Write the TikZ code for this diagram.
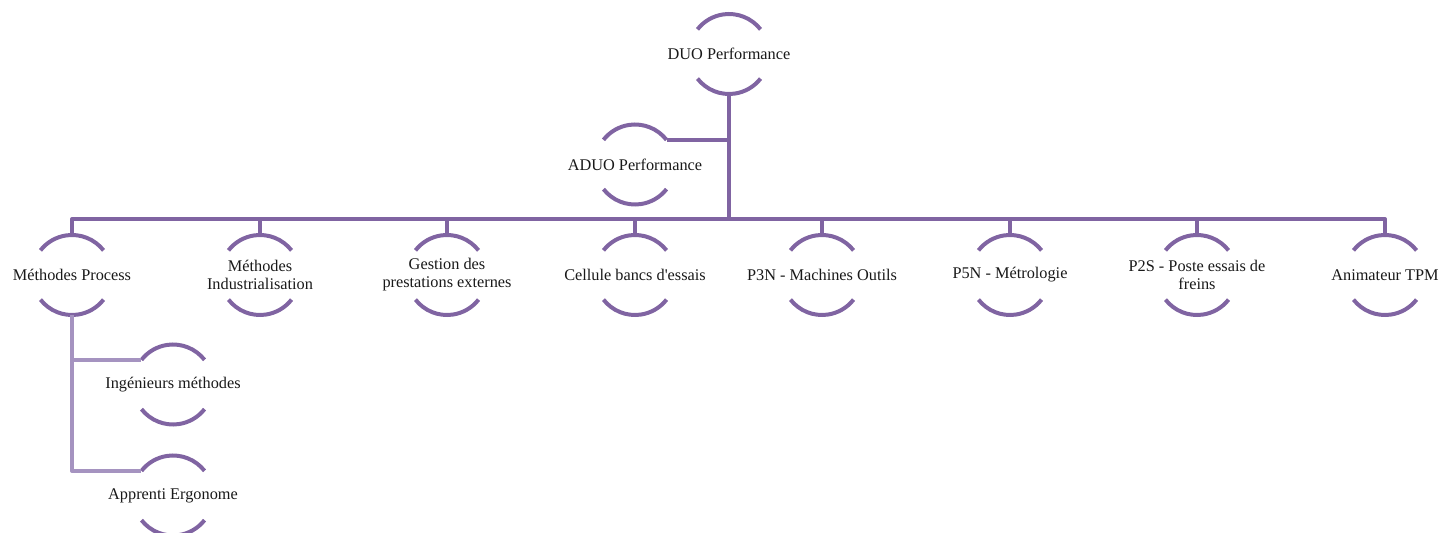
\documentclass[tikz,border=0pt]{standalone}
\usepackage{fontspec}
\setmainfont{Liberation Serif}
\definecolor{plum}{HTML}{8064A2}
\definecolor{lilac}{HTML}{A593C0}
\begin{document}
\begin{tikzpicture}[x=1pt,y=1pt,
  ring/.style={circle,minimum size=80pt,inner sep=0pt,outer sep=0pt},
  caption/.style={align=center,font=\fontsize{16.3}{18}\selectfont,text=black!90},
  link/.style={draw=plum,line width=4pt,line join=round},
  sublink/.style={draw=lilac,line width=4pt,line join=round},
  bow/.style={draw=plum,line width=4pt}]
\useasboundingbox (0,0) rectangle (1441,533);

% top levels
\node[ring,label={[caption,name=duoT]center:DUO Performance}] (duo) at (729,479) {};
\node[ring,label={[caption,name=aduoT]center:ADUO Performance}] (aduo) at (635,368.5) {};

% second level
\node[ring,label={[caption,name=mpT]center:Méthodes Process}] (mp) at (72,258) {};
\node[ring,label={[caption,name=miT]center:Méthodes\\Industrialisation}] (mi) at (260,258) {};
\node[ring,label={[caption,name=gpT]center:Gestion des\\prestations externes}] (gp) at (447,258) {};
\node[ring,label={[caption,name=cbT]center:Cellule bancs d\textquotesingle essais}] (cb) at (635,258) {};
\node[ring,label={[caption,name=p3T]center:P3N - Machines Outils}] (p3) at (822,258) {};
\node[ring,label={[caption,name=p5T]center:P5N - Métrologie}] (p5) at (1010,258) {};
\node[ring,label={[caption,name=p2T]center:P2S - Poste essais de\\freins}] (p2) at (1197,258) {};
\node[ring,label={[caption,name=atT]center:Animateur TPM}] (at) at (1385,258) {};

% third level
\node[ring,label={[caption,name=ingT]center:Ingénieurs méthodes}] (ing) at (173,148.5) {};
\node[ring,label={[caption,name=appT]center:Apprenti Ergonome}] (app) at (173,37.5) {};

% arcs above and below each label
\foreach \n in {duo,aduo,mp,mi,gp,cb,p3,p5,p2,at,ing,app}{
  \draw[bow] (\n.38) arc[start angle=38,end angle=142,radius=40pt];
  \draw[bow] (\n.218) arc[start angle=218,end angle=322,radius=40pt];
}

% connectors
\coordinate (hub) at (729,314);
\draw[link] (duo.south) -- (hub);
\draw[link] (aduo.38) -- (aduo.38 -| duo.south);
\draw[link] (mp.north) -- (mp.north |- hub) -- (at.north |- hub) -- (at.north);
\foreach \n in {mi,gp,cb,p3,p5,p2}{
  \draw[link] (\n.north |- hub) -- (\n.north);
}
\draw[sublink] (mp.south) |- (app.142);
\draw[sublink] (mp.south |- ing.142) -- (ing.142);
\end{tikzpicture}
\end{document}
